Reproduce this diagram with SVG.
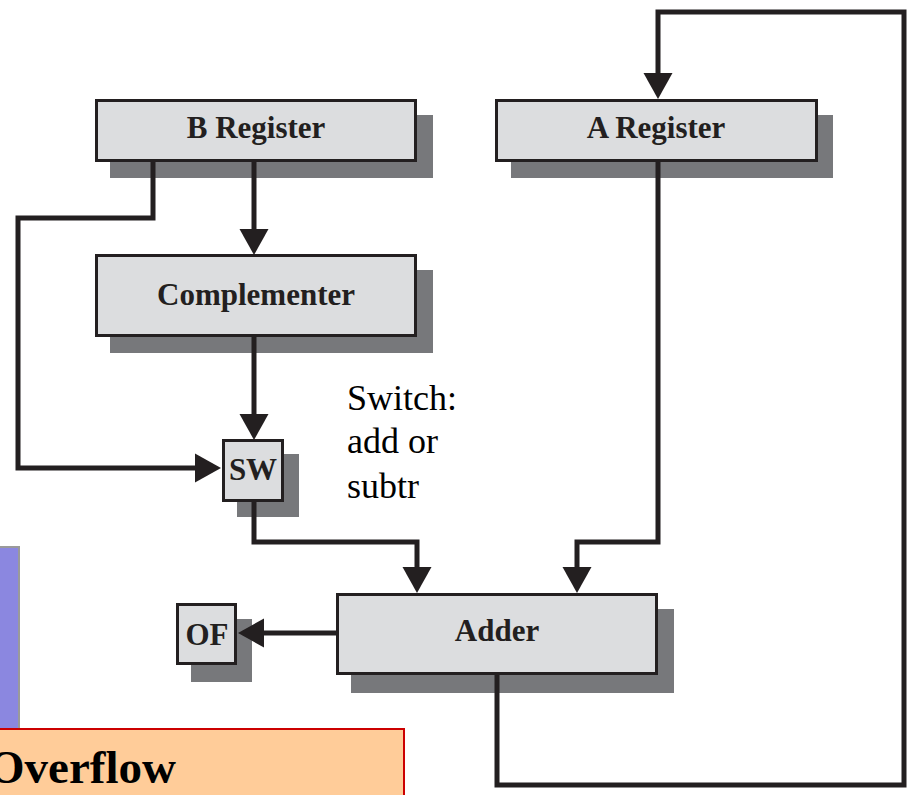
<svg xmlns="http://www.w3.org/2000/svg" width="911" height="795" viewBox="0 0 911 795">
  <style>
    .shadow { fill: #77787b; }
    .box { fill: #dcdddf; stroke: #231f20; stroke-width: 3; }
    .label { font-family: "Liberation Serif", "Times New Roman", serif; font-weight: bold; font-size: 31px; fill: #231f20; text-anchor: middle; }
    .wire { fill: none; stroke: #231f20; stroke-width: 5; stroke-linejoin: miter; stroke-linecap: butt; }
    .note { font-family: "Liberation Serif", "Times New Roman", serif; font-size: 36px; fill: #000; }
  </style>
  <defs>
    <marker id="arrow" markerUnits="userSpaceOnUse" markerWidth="30" markerHeight="30" viewBox="0 0 26 30" refX="13" refY="15" orient="auto">
      <path d="M0,0.5 L26,15 L0,29.5 z" fill="#231f20"/>
    </marker>
  </defs>

  <rect width="911" height="795" fill="#ffffff"/>

  <!-- side panel and caption bar -->
  <g id="side-panel">
    <rect x="-2" y="547" width="21" height="190" fill="#8b87e0" stroke="#9a9a9a" stroke-width="2"/>
  </g>
  <g id="overflow-caption">
    <rect x="-3" y="729" width="407" height="70" fill="#ffcc99" stroke="#cc0000" stroke-width="2"/>
    <text x="176" y="783" font-family="'Liberation Serif', 'Times New Roman', serif" font-weight="bold" font-size="47px" fill="#000" text-anchor="end">Overflow</text>
  </g>

  <!-- register and adder blocks -->
  <g id="b-register">
    <rect class="shadow" x="110" y="115" width="323" height="63"/>
    <rect class="box" x="96.5" y="100.5" width="319" height="60"/>
    <text class="label" x="256" y="138">B Register</text>
  </g>
  <g id="a-register">
    <rect class="shadow" x="511" y="115" width="322" height="63"/>
    <rect class="box" x="496.5" y="100.5" width="320" height="60"/>
    <text class="label" x="656" y="138">A Register</text>
  </g>
  <g id="complementer">
    <rect class="shadow" x="110" y="270" width="323" height="83"/>
    <rect class="box" x="96.5" y="255.5" width="319" height="80"/>
    <text class="label" x="256" y="305">Complementer</text>
  </g>
  <g id="sw">
    <rect class="shadow" x="237" y="454" width="62" height="63"/>
    <rect class="box" x="223.5" y="440.5" width="59" height="60"/>
    <text class="label" x="253" y="480">SW</text>
  </g>
  <g id="adder">
    <rect class="shadow" x="351" y="609" width="323" height="84"/>
    <rect class="box" x="337.5" y="594.5" width="319" height="79"/>
    <text class="label" x="497" y="641">Adder</text>
  </g>
  <g id="of">
    <rect class="shadow" x="191" y="619" width="61" height="63"/>
    <rect class="box" x="177.5" y="604.5" width="58" height="59"/>
    <text class="label" x="207" y="645">OF</text>
  </g>

  <g id="switch-note">
    <text class="note" x="347" y="410">Switch:</text>
    <text class="note" x="347" y="453">add or</text>
    <text class="note" x="347" y="498">subtr</text>
  </g>

  <!-- data paths -->
  <g id="connectors">
    <path class="wire" d="M254,162 V242" marker-end="url(#arrow)"/>
    <path class="wire" d="M153,162 V218 H18 V468 H208" marker-end="url(#arrow)"/>
    <path class="wire" d="M254,337 V427" marker-end="url(#arrow)"/>
    <path class="wire" d="M254,502 V542 H417 V580" marker-end="url(#arrow)"/>
    <path class="wire" d="M658,162 V542 H577 V580" marker-end="url(#arrow)"/>
    <path class="wire" d="M336,633 H251" marker-end="url(#arrow)"/>
    <path class="wire" d="M497,675 V785 H904 V12 H658 V86" marker-end="url(#arrow)"/>
  </g>
</svg>
